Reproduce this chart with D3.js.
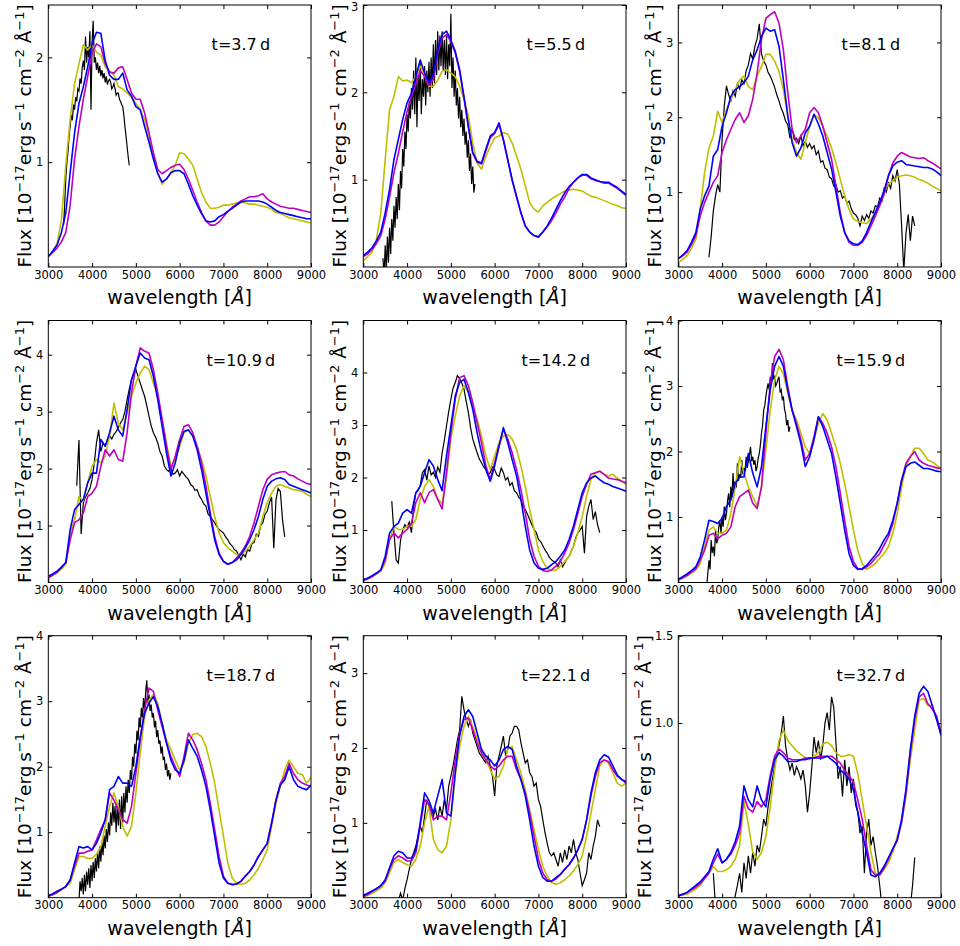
<!DOCTYPE html>
<html>
<head>
<meta charset="utf-8">
<script src="https://cdn.jsdelivr.net/npm/d3@7"></script>
<style>
  body { margin: 0; background: #fff; }
  text { font-family: "DejaVu Sans", sans-serif; }
</style>
</head>
<body>
<script>
// ---- data (flux in 1e-17 erg/s/cm2/A) ----
var epochs = ["3.7", "5.5", "8.1", "10.9", "14.2", "15.9", "18.7", "22.1", "32.7"];
var yMax = [2.5, 3, 3.5, 4.6, 4.99, 4, 4, 3.5, 1.5];
var yTicks = [[1, 2], [1, 2, 3], [1, 2, 3], [1, 2, 3, 4], [1, 2, 3, 4], [1, 2, 3, 4], [1, 2, 3, 4], [1, 2, 3], [1.0, 1.5]];
var xTicks = [3000, 4000, 5000, 6000, 7000, 8000, 9000];

// model spectra sampled 3000..9000 A every 100 A
var modelStart = 3000, modelStep = 100;
// observed spectra: first wavelength and sampling step per epoch
var obsStart = [3350, 3450, 3700, 3650, 3650, 3650, 3700, 3800, 3800];
var obsStep = [25, 25, 50, 50, 50, 25, 25, 50, 50];

var yel37 = [0.10,0.15,0.22,0.45,0.97,1.41,1.75,1.94,2.12,2.07,
  2.12,2.05,2.02,1.91,1.87,1.83,1.72,1.70,1.66,1.62,
  1.56,1.50,1.41,1.25,1.06,0.90,0.79,0.84,0.90,0.97,
  1.09,1.08,1.03,0.97,0.84,0.71,0.62,0.56,0.56,0.57,
  0.59,0.59,0.60,0.61,0.62,0.61,0.60,0.60,0.59,0.58,
  0.57,0.55,0.52,0.51,0.49,0.47,0.46,0.45,0.44,0.43,0.42];
var mag37 = [0.10,0.14,0.18,0.24,0.33,0.59,1.03,1.34,1.60,1.82,
  2.04,2.13,2.10,1.94,1.86,1.85,1.90,1.91,1.79,1.66,
  1.60,1.60,1.47,1.28,1.09,0.93,0.89,0.92,0.95,0.97,
  0.98,0.93,0.84,0.73,0.62,0.52,0.44,0.40,0.40,0.43,
  0.48,0.53,0.57,0.60,0.63,0.65,0.67,0.67,0.68,0.70,
  0.65,0.62,0.60,0.58,0.57,0.56,0.56,0.55,0.54,0.53,0.52];
var blu37 = [0.10,0.15,0.21,0.33,0.52,0.90,1.28,1.56,1.72,1.91,
  2.13,2.24,2.23,1.97,1.83,1.79,1.79,1.85,1.69,1.63,
  1.53,1.50,1.34,1.19,1.03,0.89,0.81,0.84,0.90,0.92,
  0.92,0.89,0.79,0.68,0.59,0.51,0.44,0.43,0.44,0.48,
  0.50,0.53,0.56,0.59,0.62,0.63,0.63,0.63,0.63,0.62,
  0.60,0.57,0.54,0.52,0.51,0.50,0.49,0.48,0.47,0.46,0.46];
var obs37 = [0.40,0.60,0.85,1.00,1.10,1.25,1.35,1.45,1.40,1.55,
  1.50,1.62,1.58,1.70,1.68,1.80,1.75,1.90,1.97,1.88,
  2.20,1.95,2.10,2.00,2.25,1.50,2.15,2.35,1.95,2.00,
  1.88,1.95,1.85,1.92,1.82,1.88,1.80,1.85,1.76,1.82,
  1.74,1.78,1.79,1.76,1.70,1.72,1.75,1.70,1.64,1.66,
  1.66,1.60,1.58,1.55,1.53,1.45,1.34,1.25,1.15,1.05,0.97];

var yel55 = [0.07,0.12,0.17,0.32,0.62,1.23,1.80,1.95,2.18,2.13,
  2.14,2.11,2.18,2.30,2.20,2.07,2.07,2.14,2.24,2.26,
  2.22,2.18,2.07,1.92,1.73,1.42,1.19,1.12,1.27,1.38,
  1.48,1.50,1.54,1.52,1.42,1.27,1.12,0.93,0.74,0.66,
  0.63,0.70,0.74,0.78,0.81,0.84,0.87,0.88,0.89,0.88,
  0.87,0.84,0.81,0.80,0.78,0.76,0.74,0.72,0.70,0.68,0.67];
var mag55 = [0.12,0.15,0.20,0.27,0.36,0.55,0.80,1.08,1.30,1.55,
  1.78,1.95,2.10,2.25,2.18,2.08,2.15,2.45,2.62,2.66,
  2.58,2.45,2.24,1.93,1.60,1.30,1.20,1.18,1.33,1.48,
  1.53,1.63,1.45,1.22,0.99,0.80,0.62,0.47,0.40,0.36,
  0.35,0.40,0.46,0.53,0.62,0.72,0.80,0.90,0.97,1.02,
  1.05,1.05,1.01,0.99,0.98,0.96,0.96,0.93,0.90,0.86,0.82];
var blu55 = [0.13,0.17,0.22,0.30,0.40,0.62,0.89,1.23,1.46,1.69,
  1.88,1.99,2.18,2.37,2.22,2.11,2.20,2.49,2.66,2.70,
  2.60,2.47,2.26,1.95,1.61,1.31,1.21,1.19,1.35,1.50,
  1.54,1.65,1.46,1.23,1.00,0.81,0.62,0.47,0.40,0.36,
  0.34,0.40,0.47,0.56,0.66,0.76,0.85,0.92,0.97,1.02,
  1.06,1.06,1.02,1.00,0.98,0.97,0.97,0.94,0.91,0.87,0.83];
var obs55 = [0.10,-0.10,0.25,-0.05,0.35,0.05,0.45,0.15,0.55,0.30,
  0.70,0.45,0.80,0.55,0.95,0.65,1.10,0.90,1.35,1.15,
  1.55,1.35,1.75,1.55,1.90,1.70,2.05,1.80,2.25,1.75,
  2.40,1.60,2.20,1.90,2.35,1.75,2.15,1.95,2.30,1.85,
  2.25,2.00,2.35,1.95,2.40,2.05,2.55,2.10,2.60,2.20,
  2.70,2.25,2.65,2.30,2.70,2.25,2.60,2.20,2.65,2.15,
  2.55,2.30,2.90,2.05,2.40,1.95,2.25,1.85,2.05,1.70,
  1.95,1.60,1.80,1.50,1.70,1.40,1.55,1.25,1.45,1.10,
  1.30,0.95,1.15,0.85,0.95];

var yel81 = [0.06,0.10,0.15,0.25,0.37,0.77,1.26,1.59,1.75,2.08,
  1.93,2.10,2.24,2.37,2.50,2.55,2.41,2.37,2.55,2.68,
  2.84,2.84,2.75,2.61,2.37,2.02,1.70,1.53,1.44,1.66,
  1.88,2.04,1.99,1.88,1.75,1.59,1.39,1.17,0.95,0.77,
  0.64,0.61,0.59,0.58,0.64,0.73,0.86,1.00,1.11,1.15,
  1.20,1.22,1.23,1.22,1.20,1.17,1.15,1.12,1.08,1.05,1.02];
var mag81 = [0.11,0.15,0.20,0.30,0.42,0.68,0.86,1.00,1.13,1.22,
  1.53,1.70,1.84,1.97,2.06,1.93,2.02,2.24,2.59,3.04,
  3.32,3.37,3.41,3.26,2.90,2.33,1.84,1.66,1.75,1.84,
  2.06,2.13,2.06,1.88,1.66,1.44,1.08,0.73,0.46,0.33,
  0.29,0.29,0.33,0.42,0.55,0.68,0.82,0.97,1.22,1.39,
  1.48,1.53,1.50,1.47,1.46,1.45,1.46,1.42,1.39,1.35,1.31];
var blu81 = [0.11,0.16,0.22,0.33,0.46,0.77,0.95,1.08,1.48,1.57,
  1.88,2.06,2.28,2.37,2.41,2.46,2.55,2.77,2.90,3.08,
  3.19,3.15,3.17,2.95,2.50,2.02,1.66,1.48,1.59,1.79,
  1.88,2.04,1.91,1.75,1.53,1.31,1.00,0.68,0.46,0.35,
  0.31,0.30,0.35,0.46,0.60,0.73,0.86,1.02,1.22,1.35,
  1.40,1.42,1.37,1.36,1.35,1.34,1.33,1.33,1.31,1.27,1.22];
var obs81 = [0.13,0.40,0.75,0.95,1.10,1.00,1.70,2.15,2.42,2.30,
  2.22,2.35,2.28,2.45,2.38,2.50,2.45,2.62,2.70,2.85,
  2.78,2.95,3.05,3.25,2.85,2.75,2.70,2.60,2.55,2.48,
  2.40,2.30,2.22,2.12,2.05,1.95,1.90,1.72,1.85,1.70,
  1.72,1.65,1.75,1.62,1.68,1.60,1.65,1.58,1.62,1.50,
  1.55,1.40,1.42,1.32,1.30,1.20,1.18,1.08,1.10,1.00,
  1.02,0.92,0.95,0.85,0.88,0.78,0.72,0.70,0.65,0.55,
  0.68,0.62,0.70,0.65,0.75,0.72,0.82,0.80,0.92,0.88,
  1.05,1.00,1.12,1.05,1.22,1.15,1.30,1.10,0.55,-0.05,
  0.45,0.70,0.35,0.68,0.55];

var yel109 = [0.08,0.12,0.17,0.24,0.32,0.87,1.10,1.51,1.43,1.75,
  2.04,2.16,2.10,2.22,2.57,3.15,2.80,2.68,2.98,3.27,
  3.50,3.68,3.80,3.74,3.50,3.27,2.86,2.45,2.04,2.16,
  2.39,2.63,2.68,2.57,2.39,2.16,1.87,1.51,1.16,0.87,
  0.70,0.61,0.55,0.49,0.49,0.55,0.64,0.75,0.87,1.16,
  1.40,1.57,1.69,1.72,1.69,1.66,1.63,1.62,1.60,1.55,1.51];
var mag109 = [0.08,0.13,0.18,0.26,0.35,0.75,1.05,1.10,1.22,1.51,
  1.57,1.69,2.04,2.33,2.22,2.33,2.16,2.13,2.63,3.33,
  3.80,4.12,4.06,4.03,3.74,3.33,2.86,2.39,1.98,2.22,
  2.51,2.74,2.77,2.63,2.39,2.10,1.69,1.22,0.81,0.52,
  0.37,0.32,0.35,0.43,0.52,0.64,0.81,1.05,1.34,1.63,
  1.81,1.89,1.92,1.94,1.95,1.89,1.87,1.82,1.78,1.74,1.72];
var blu109 = [0.11,0.15,0.20,0.27,0.35,0.93,1.28,1.37,1.46,1.75,
  1.92,1.92,2.51,2.39,2.63,2.92,2.68,2.57,3.04,3.56,
  3.80,4.03,3.94,3.91,3.62,3.21,2.74,2.27,1.87,2.10,
  2.45,2.65,2.68,2.57,2.33,1.98,1.57,1.16,0.75,0.49,
  0.37,0.32,0.35,0.40,0.49,0.61,0.75,0.93,1.16,1.46,
  1.69,1.78,1.82,1.84,1.81,1.72,1.69,1.66,1.63,1.60,1.57];
var obs109 = [1.70,2.50,0.85,1.40,1.50,1.57,1.65,1.81,2.10,2.45,
  2.68,2.30,2.45,2.40,2.50,2.58,2.52,2.60,2.65,2.72,
  2.80,2.86,3.00,3.21,3.40,3.56,3.65,3.74,3.62,3.50,
  3.38,3.27,3.10,2.92,2.75,2.63,2.55,2.45,2.30,2.22,
  2.05,1.98,1.95,2.00,1.90,1.92,1.98,1.87,1.95,1.90,
  1.85,1.81,1.72,1.69,1.62,1.63,1.52,1.46,1.38,1.34,
  1.20,1.16,1.10,1.05,0.98,0.93,0.90,0.87,0.80,0.75,
  0.68,0.64,0.58,0.55,0.48,0.40,0.50,0.45,0.58,0.55,
  0.68,0.70,0.85,0.81,1.00,1.05,1.20,1.25,1.40,1.50,
  0.60,1.45,1.65,1.60,1.10,0.80];

var yel142 = [0.05,0.08,0.11,0.16,0.21,0.37,0.82,1.07,1.01,1.01,
  1.07,1.07,1.20,1.58,1.83,1.96,1.83,1.60,1.50,2.00,
  2.73,3.17,3.55,3.75,3.62,3.36,3.11,2.79,2.41,2.15,
  2.41,2.66,2.79,2.82,2.73,2.54,2.22,1.83,1.39,1.01,
  0.62,0.40,0.27,0.23,0.23,0.31,0.40,0.50,0.69,0.94,
  1.26,1.64,1.96,2.09,2.12,2.06,2.03,2.06,1.99,1.93,1.87];
var mag142 = [0.04,0.07,0.11,0.17,0.24,0.43,0.82,0.94,0.85,0.94,
  1.01,1.13,1.52,1.71,1.52,1.71,1.77,1.58,1.40,2.09,
  2.85,3.49,3.90,3.94,3.75,3.43,3.04,2.66,2.22,1.96,
  2.28,2.60,2.92,2.73,2.47,2.15,1.77,1.32,0.82,0.50,
  0.31,0.23,0.21,0.24,0.31,0.40,0.56,0.75,1.01,1.32,
  1.64,1.87,2.06,2.09,2.12,2.06,1.99,1.97,1.96,1.93,1.90];
var blu142 = [0.05,0.08,0.13,0.18,0.24,0.50,0.94,1.07,1.13,1.32,
  1.39,1.32,1.71,1.83,2.09,2.34,2.22,1.96,1.75,2.41,
  2.98,3.55,3.81,3.87,3.62,3.30,2.85,2.47,2.15,1.93,
  2.22,2.60,2.95,2.66,2.34,2.03,1.58,1.07,0.62,0.37,
  0.27,0.25,0.27,0.34,0.40,0.50,0.62,0.82,1.07,1.39,
  1.71,1.90,1.99,2.03,1.96,1.90,1.87,1.83,1.80,1.77,1.74];
var obs142 = [1.55,0.95,0.43,0.37,0.80,1.00,1.10,1.05,1.15,0.95,
  1.45,1.71,1.75,1.85,2.09,2.15,1.95,2.22,2.05,2.10,
  2.00,2.20,2.10,2.47,2.70,2.98,3.25,3.49,3.70,3.81,
  3.94,3.88,3.80,3.68,3.45,3.24,2.95,2.73,2.60,2.47,
  2.35,2.28,2.20,2.15,2.05,2.09,2.20,2.15,2.05,2.02,
  2.18,2.09,1.95,2.00,1.85,1.90,1.75,1.71,1.62,1.58,
  1.45,1.39,1.30,1.20,1.10,1.01,0.95,0.82,0.78,0.70,
  0.62,0.56,0.48,0.43,0.40,0.37,0.30,0.43,0.30,0.37,
  0.45,0.50,0.60,0.69,0.85,0.94,1.00,1.07,0.56,1.26,
  1.45,1.58,1.20,1.35,1.10,0.95];

var yel159 = [0.04,0.07,0.10,0.14,0.19,0.29,0.55,0.80,0.85,0.75,
  0.75,0.80,1.05,1.46,1.92,1.67,1.46,1.31,1.16,1.46,
  2.02,2.63,3.09,3.30,3.19,2.89,2.63,2.48,2.28,2.07,
  1.97,2.18,2.43,2.58,2.48,2.28,2.07,1.82,1.51,1.16,
  0.80,0.49,0.29,0.20,0.24,0.29,0.37,0.44,0.55,0.75,
  1.05,1.46,1.77,1.92,2.05,2.05,1.97,1.87,1.84,1.79,1.74];
var mag159 = [0.04,0.07,0.11,0.16,0.21,0.34,0.49,0.72,0.75,0.67,
  0.72,0.75,0.85,1.16,1.31,1.36,1.41,1.21,1.13,1.46,
  2.28,3.04,3.45,3.56,3.40,2.99,2.63,2.43,2.18,1.87,
  1.97,2.23,2.53,2.43,2.28,2.07,1.77,1.36,0.95,0.55,
  0.32,0.21,0.20,0.24,0.29,0.37,0.44,0.57,0.70,0.90,
  1.21,1.56,1.82,1.92,2.00,1.87,1.82,1.79,1.77,1.75,1.74];
var blu159 = [0.05,0.09,0.13,0.18,0.24,0.39,0.65,0.95,0.93,0.90,
  0.98,1.16,1.26,1.51,1.61,1.61,1.97,1.67,1.46,1.77,
  2.38,2.94,3.30,3.45,3.30,2.94,2.63,2.38,2.12,1.77,
  1.92,2.18,2.53,2.38,2.18,1.97,1.61,1.21,0.80,0.44,
  0.26,0.20,0.21,0.26,0.34,0.42,0.52,0.65,0.75,0.95,
  1.21,1.56,1.77,1.82,1.84,1.79,1.74,1.74,1.72,1.70,1.69];
var obs159 = [-0.05,0.15,0.34,0.20,0.65,0.45,0.55,0.40,0.80,0.60,
  0.65,0.85,0.95,0.75,1.00,0.85,1.16,0.95,1.05,1.25,
  1.36,1.15,1.46,1.30,1.67,1.40,1.55,1.45,1.82,1.55,
  1.65,1.60,1.87,1.65,1.75,1.70,1.92,1.75,1.85,1.95,
  2.07,1.85,1.92,1.80,1.87,1.70,1.77,1.90,1.97,2.10,
  2.28,2.40,2.63,2.70,2.84,2.95,3.04,2.95,3.14,3.05,
  3.35,3.10,3.14,3.00,3.04,3.10,3.14,2.90,2.94,2.80,
  2.84,2.65,2.58,2.40,2.48,2.30,2.38];

var yel187 = [0.02,0.04,0.07,0.12,0.17,0.22,0.43,0.63,0.63,0.60,
  0.60,0.66,0.78,1.09,1.39,1.60,1.39,1.09,0.94,1.09,
  1.60,2.21,2.77,3.02,3.10,2.97,2.66,2.41,2.26,2.10,
  1.95,2.05,2.36,2.49,2.51,2.46,2.31,2.05,1.75,1.34,
  0.94,0.53,0.30,0.22,0.20,0.22,0.27,0.35,0.45,0.58,
  0.73,1.09,1.44,1.70,1.95,2.10,2.00,1.90,1.88,1.75,1.83];
var mag187 = [0.02,0.05,0.08,0.13,0.17,0.27,0.48,0.68,0.68,0.71,
  0.73,0.88,1.04,1.19,1.60,1.49,1.34,1.19,1.14,1.39,
  1.90,2.41,2.87,3.20,3.15,2.87,2.61,2.36,2.16,2.00,
  1.85,2.16,2.51,2.41,2.26,2.05,1.80,1.44,1.04,0.63,
  0.33,0.22,0.20,0.21,0.25,0.33,0.40,0.50,0.63,0.73,
  0.83,1.14,1.49,1.75,1.85,2.05,1.90,1.80,1.75,1.72,1.70];
var blu187 = [0.03,0.06,0.10,0.13,0.17,0.27,0.53,0.78,0.76,0.78,
  0.73,0.83,0.99,1.19,1.65,1.70,1.85,1.75,1.75,1.70,
  2.00,2.46,2.82,2.97,3.07,2.92,2.66,2.36,2.10,1.95,
  1.90,2.10,2.41,2.28,2.16,1.95,1.70,1.34,0.94,0.53,
  0.30,0.22,0.20,0.21,0.25,0.33,0.40,0.50,0.63,0.73,
  0.83,1.14,1.49,1.72,1.80,2.00,1.80,1.70,1.67,1.65,1.72];
var obs187 = [-0.05,0.25,0.10,0.30,0.05,0.35,0.10,0.40,0.20,0.45,
  0.15,0.50,0.25,0.55,0.30,0.60,0.40,0.70,0.45,0.78,
  0.55,0.85,0.65,0.95,0.75,1.05,0.85,1.15,0.95,1.30,
  1.10,1.45,1.15,1.40,1.00,1.45,1.10,1.50,1.05,1.55,
  1.15,1.60,1.30,1.70,1.45,1.80,1.60,1.95,1.80,2.15,
  2.00,2.35,2.20,2.55,2.40,2.75,2.60,2.90,2.75,3.05,
  2.85,3.15,3.32,2.95,3.10,2.85,2.95,2.75,2.82,2.60,
  2.70,2.45,2.56,2.35,2.40,2.20,2.31,2.10,2.15,1.95,
  2.05,1.85,1.95,1.80,1.90];

var yel221 = [0.01,0.03,0.06,0.09,0.13,0.20,0.33,0.47,0.51,0.47,
  0.44,0.42,0.51,0.69,1.00,1.22,0.78,0.64,0.60,0.69,
  1.04,1.62,2.02,2.29,2.42,2.29,2.11,1.98,1.84,1.71,
  1.58,1.62,1.76,1.98,2.02,1.84,1.67,1.44,1.18,0.91,
  0.64,0.42,0.29,0.20,0.18,0.20,0.24,0.29,0.36,0.44,
  0.56,0.82,1.13,1.44,1.76,1.84,1.80,1.67,1.53,1.49,1.53];
var mag221 = [0.02,0.04,0.08,0.12,0.16,0.22,0.38,0.51,0.56,0.53,
  0.49,0.49,0.60,0.96,1.31,1.25,1.04,1.09,1.09,1.04,
  1.40,1.84,2.20,2.38,2.40,2.24,2.07,1.93,1.84,1.76,
  1.71,1.76,1.84,1.89,1.89,1.71,1.58,1.40,1.13,0.82,
  0.51,0.33,0.24,0.22,0.25,0.31,0.38,0.44,0.53,0.64,
  0.78,1.04,1.36,1.62,1.80,1.84,1.82,1.71,1.62,1.58,1.53];
var blu221 = [0.03,0.06,0.09,0.12,0.16,0.24,0.40,0.56,0.62,0.60,
  0.53,0.53,0.64,1.00,1.40,1.30,1.13,1.36,1.58,1.13,
  1.09,1.67,2.16,2.42,2.51,2.42,2.20,1.98,1.89,1.84,
  1.76,1.84,1.98,2.02,1.98,1.76,1.58,1.36,1.04,0.69,
  0.42,0.27,0.22,0.22,0.27,0.31,0.38,0.44,0.53,0.64,
  0.78,1.04,1.40,1.67,1.84,1.91,1.88,1.76,1.64,1.58,1.55];
var obs221 = [-0.05,0.06,-0.03,0.12,0.24,0.38,0.51,0.60,0.69,0.82,
  0.96,0.87,1.09,1.31,1.22,1.18,1.09,1.18,1.04,1.22,
  1.09,1.31,1.18,1.49,1.62,1.76,1.93,2.11,2.24,2.69,
  2.51,2.38,2.29,2.38,2.20,2.11,2.02,1.93,1.89,1.84,
  1.80,1.89,1.76,1.62,1.36,1.76,1.89,2.02,2.16,1.89,
  1.98,2.16,2.20,2.29,2.29,2.24,2.07,1.93,1.80,1.84,
  1.67,1.62,1.49,1.53,1.31,1.22,1.04,0.87,0.73,0.60,
  0.56,0.60,0.51,0.42,0.60,0.47,0.64,0.51,0.69,0.60,
  0.78,0.60,0.51,0.33,0.16,0.24,0.33,0.60,0.51,0.69,
  0.82,1.04,0.95];

var yel327 = [0.01,0.015,0.02,0.035,0.05,0.07,0.11,0.14,0.18,0.15,
  0.15,0.16,0.18,0.22,0.30,0.55,0.42,0.26,0.22,0.26,
  0.35,0.52,0.73,0.90,0.96,0.90,0.87,0.84,0.82,0.80,
  0.79,0.81,0.83,0.88,0.89,0.87,0.83,0.81,0.81,0.82,
  0.81,0.71,0.56,0.41,0.26,0.14,0.13,0.16,0.20,0.26,
  0.35,0.43,0.58,0.79,0.96,1.13,1.14,1.10,1.10,1.02,0.94];
var mag327 = [0.01,0.02,0.03,0.045,0.06,0.08,0.11,0.14,0.20,0.25,
  0.20,0.22,0.25,0.30,0.37,0.58,0.51,0.49,0.55,0.52,
  0.56,0.70,0.81,0.85,0.83,0.80,0.79,0.79,0.79,0.80,
  0.80,0.80,0.81,0.81,0.81,0.81,0.79,0.77,0.73,0.70,
  0.66,0.56,0.45,0.30,0.16,0.13,0.13,0.17,0.22,0.28,
  0.33,0.43,0.60,0.83,1.02,1.15,1.17,1.11,1.08,1.04,0.94];
var blu327 = [0.01,0.02,0.03,0.05,0.07,0.09,0.12,0.15,0.22,0.28,
  0.20,0.22,0.26,0.32,0.41,0.64,0.56,0.52,0.64,0.56,
  0.52,0.68,0.79,0.83,0.81,0.78,0.78,0.78,0.79,0.79,
  0.80,0.80,0.80,0.80,0.81,0.79,0.77,0.73,0.71,0.68,
  0.62,0.49,0.37,0.26,0.13,0.12,0.14,0.18,0.23,0.28,
  0.33,0.45,0.62,0.85,1.04,1.17,1.21,1.18,1.10,1.02,0.93];
var obs327 = [0.14,-0.05,-0.05,-0.05,-0.05,-0.05,-0.05,-0.05,-0.05,-0.05,
  0.01,0.07,0.14,0.03,0.20,0.11,0.24,0.14,0.26,0.18,
  0.30,0.26,0.35,0.45,0.41,0.52,0.60,0.68,0.75,0.83,
  0.87,0.94,1.04,0.87,0.79,0.73,0.77,0.70,0.75,0.72,
  0.68,0.73,0.64,0.49,0.60,0.75,0.92,0.83,0.90,0.79,
  0.87,1.00,1.06,0.96,1.15,1.09,0.89,0.68,0.75,0.58,
  0.79,0.64,0.75,0.60,0.68,0.53,0.49,0.37,0.41,0.14,
  0.37,0.45,0.30,0.35,0.26,0.18,0.07,-0.05,-0.10,-0.10,
  -0.10,-0.10,-0.10,-0.10,-0.10,-0.10,-0.10,-0.10,-0.10,-0.10,
  -0.05,0.07,0.23];

var observed = [obs37, obs55, obs81, obs109, obs142, obs159, obs187, obs221, obs327];
var yellowModel = [yel37, yel55, yel81, yel109, yel142, yel159, yel187, yel221, yel327];
var magentaModel = [mag37, mag55, mag81, mag109, mag142, mag159, mag187, mag221, mag327];
var blueModel = [blu37, blu55, blu81, blu109, blu142, blu159, blu187, blu221, blu327];

// ---- layout ----
var colX = [48.3, 363.3, 678.3],
    rowY = [5, 320.5, 635.7],
    pw = 262.7, ph = 262,
    tickFont = 11.5, labFont = 19, yLabFont = 18.5;

var svg = d3.select("body").append("svg")
    .attr("width", 960).attr("height", 946);

epochs.forEach(function(ep, i) {
  var col = i % 3, row = Math.floor(i / 3);
  var g = svg.append("g")
      .attr("transform", "translate(" + colX[col] + "," + rowY[row] + ")");

  var x = d3.scaleLinear().domain([3000, 9000]).range([0, pw]),
      y = d3.scaleLinear().domain([0, yMax[i]]).range([ph, 0]);

  g.append("clipPath").attr("id", "clip" + i)
    .append("rect").attr("width", pw).attr("height", ph);
  var plot = g.append("g").attr("clip-path", "url(#clip" + i + ")");

  var obsLine = d3.line()
      .x(function(d, j) { return x(obsStart[i] + j * obsStep[i]); })
      .y(function(d) { return y(d); });
  var modLine = d3.line()
      .x(function(d, j) { return x(modelStart + j * modelStep); })
      .y(function(d) { return y(d); });

  plot.append("path")
      .attr("d", obsLine(observed[i]))
      .attr("fill", "none").attr("stroke", "#000").attr("stroke-width", 1.2);

  [[yellowModel, "#bfbf00"], [magentaModel, "#bf00bf"], [blueModel, "#0000ff"]].forEach(function(m) {
    plot.append("path")
        .attr("d", modLine(m[0][i]))
        .attr("fill", "none").attr("stroke", m[1])
        .attr("stroke-width", 1.6).attr("stroke-linejoin", "round");
  });

  // axes, ticks pointing inwards on all four sides
  var fmt = i === 8 ? d3.format(".1f") : d3.format("d");
  var ax = [
    g.append("g").attr("transform", "translate(0," + ph + ")")
      .call(d3.axisBottom(x).tickValues(xTicks).tickSizeInner(-4).tickSizeOuter(0).tickPadding(3.5).tickFormat(d3.format("d"))),
    g.append("g")
      .call(d3.axisTop(x).tickValues(xTicks).tickSizeInner(-4).tickSizeOuter(0).tickFormat("")),
    g.append("g")
      .call(d3.axisLeft(y).tickValues(yTicks[i]).tickSizeInner(-4).tickSizeOuter(0).tickPadding(5).tickFormat(fmt)),
    g.append("g").attr("transform", "translate(" + pw + ",0)")
      .call(d3.axisRight(y).tickValues(yTicks[i]).tickSizeInner(-4).tickSizeOuter(0).tickFormat(""))
  ];
  ax.forEach(function(a) {
    a.attr("font-size", tickFont).attr("font-family", "DejaVu Sans");
    a.select(".domain").remove();
  });
  // a label sitting on the very top edge of the figure is nudged down a little
  if (row === 0) {
    ax[2].selectAll(".tick text")
        .filter(function(d) { return y(d) < 1; })
        .attr("dy", "0.5em");
  }

  g.append("rect")
      .attr("width", pw).attr("height", ph)
      .attr("fill", "none").attr("stroke", "#000").attr("stroke-width", 1);

  // epoch label
  g.append("text")
      .attr("x", pw * 0.733).attr("y", 45)
      .attr("text-anchor", "middle").attr("font-size", 16)
      .text("t=" + ep + "\u2009d");

  // x label
  var xl = g.append("text")
      .attr("x", pw / 2).attr("y", ph + 37)
      .attr("text-anchor", "middle").attr("font-size", labFont);
  xl.append("tspan").text("wavelength [");
  xl.append("tspan").attr("font-style", "italic").text("\u00c5");
  xl.append("tspan").text("]");

  // y label, placed left of the tick labels
  var lb = ax[2].node().getBBox();
  var yl = g.append("text")
      .attr("transform", "translate(" + (lb.x - 4.5) + "," + (ph / 2) + ") rotate(-90)")
      .attr("text-anchor", "middle").attr("font-size", yLabFont);
  var sh = yLabFont * 0.42;
  var parts = [["Flux [10", 0], ["\u221217", 1], ["erg\u2009s", 0], ["\u22121", 1],
               [" cm", 0], ["\u22122", 1], [" \u00c5", 0], ["\u22121", 1], ["]", 0]];
  var up = false;
  parts.forEach(function(p) {
    var t = yl.append("tspan").text(p[0]);
    if (p[1]) {
      t.attr("font-size", yLabFont * 0.7).attr("dy", -sh);
      up = true;
    } else if (up) {
      t.attr("dy", sh);
      up = false;
    }
  });
});
</script>
</body>
</html>
